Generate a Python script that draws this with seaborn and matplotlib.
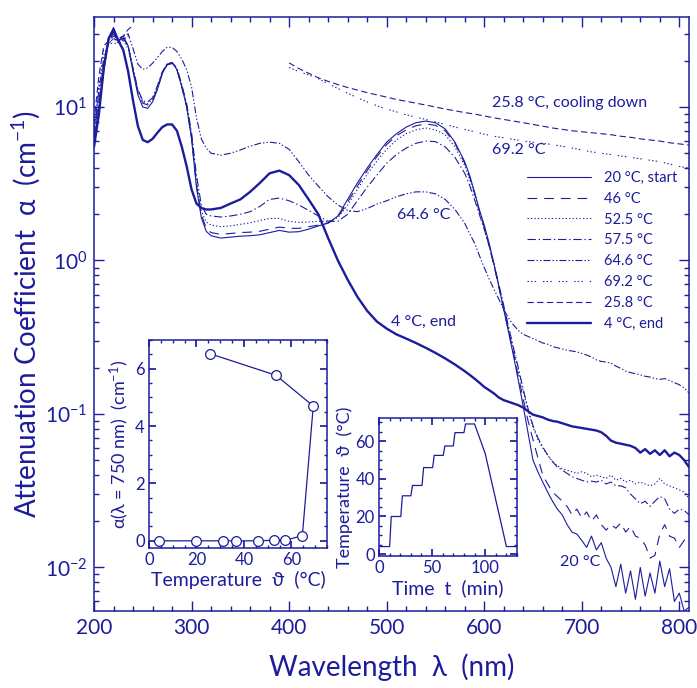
import matplotlib
matplotlib.use("Agg")
import matplotlib.pyplot as plt
from matplotlib.lines import Line2D
from matplotlib.ticker import MultipleLocator, LogLocator, NullFormatter
import seaborn as sns

BLUE = "#1c1c9c"

# ---- spectra (wavelength in nm, attenuation in 1/cm) ----
wl = ([200, 205, 210, 215, 220, 225, 230, 235, 240, 245, 250, 255, 260, 265, 270,
       275, 280, 285, 290, 295, 300, 305, 310, 315, 320]
      + list(range(330, 590, 10))
      + list(range(585, 815, 5)))

a_20 = [5.8, 9.5, 17, 28, 33, 27, 29, 25, 17, 12, 10, 9.8, 10.8, 13, 16.5, 19, 19.5, 17.5, 13.5, 10, 6.2, 3.0, 1.9, 1.55, 1.45,
        1.40, 1.42, 1.44, 1.45, 1.47, 1.52, 1.57, 1.53, 1.54, 1.60, 1.68, 1.75, 1.95, 2.5, 3.2, 4.0, 4.9, 5.9, 6.7, 7.4, 7.9, 8.1, 7.9, 7.2, 5.9, 4.4,
        3.6, 2.8, 2.15, 1.7, 1.3, 0.95, 0.68, 0.48, 0.34, 0.24, 0.165, 0.112, 0.075, 0.050, 0.042, 0.036, 0.031, 0.027, 0.024, 0.022,
        0.019, 0.017, 0.0165, 0.015, 0.0135, 0.016, 0.013, 0.0145, 0.0115, 0.010, 0.0075, 0.0105, 0.0068, 0.0095, 0.0062, 0.0100,
        0.0065, 0.0092, 0.0068, 0.011, 0.0075, 0.0098, 0.0060, 0.0068, 0.0052, 0.0055]

a_46 = [6.5, 11, 19, 27, 30, 27, 28, 25, 17.5, 12.5, 10.6, 10.3, 11, 13.3, 16.5, 18.8, 19.2, 17.5, 13.5, 10, 6.3, 3.1, 2.0, 1.62, 1.52,
        1.48, 1.50, 1.52, 1.53, 1.55, 1.60, 1.65, 1.62, 1.62, 1.66, 1.70, 1.76, 1.92, 2.4, 3.05, 3.85, 4.75, 5.7, 6.5, 7.1, 7.55, 7.75, 7.6, 7.0, 5.8, 4.3,
        3.5, 2.75, 2.1, 1.65, 1.25, 0.93, 0.67, 0.48, 0.35, 0.25, 0.175, 0.125, 0.09, 0.068, 0.052, 0.040, 0.035, 0.031, 0.029, 0.027,
        0.025, 0.022, 0.024, 0.021, 0.023, 0.020, 0.022, 0.019, 0.0175, 0.019, 0.018, 0.0195, 0.017, 0.0185, 0.016, 0.0155,
        0.014, 0.0115, 0.012, 0.0165, 0.019, 0.016, 0.0155, 0.0135, 0.015, 0.0165]

a_525 = [7, 12, 20, 26, 28, 26, 27, 24, 17.5, 12.8, 10.8, 10.5, 11.2, 13.5, 16.8, 19, 19.3, 17.8, 13.8, 10.3, 6.5, 3.3, 2.1, 1.78, 1.70,
         1.66, 1.68, 1.72, 1.76, 1.82, 1.88, 1.88, 1.80, 1.77, 1.78, 1.80, 1.80, 1.90, 2.3, 2.9, 3.65, 4.45, 5.3, 6.1, 6.7, 7.1, 7.3, 7.1, 6.6, 5.5, 4.15,
         3.4, 2.7, 2.1, 1.65, 1.25, 0.93, 0.68, 0.49, 0.36, 0.26, 0.19, 0.14, 0.105, 0.082, 0.068, 0.06, 0.054, 0.049, 0.046, 0.044,
         0.043, 0.042, 0.041, 0.042, 0.041, 0.039, 0.040, 0.039, 0.038, 0.040, 0.037, 0.038, 0.036, 0.037, 0.035, 0.036,
         0.035, 0.034, 0.035, 0.038, 0.035, 0.034, 0.033, 0.032, 0.031, 0.028]

a_575 = [6, 10, 18, 27, 31, 27, 28, 25, 18, 13, 11, 10.8, 11.5, 13.8, 17, 19.2, 19.5, 18, 14, 10.5, 6.8, 3.6, 2.3, 2.0, 1.95,
         1.92, 1.95, 2.0, 2.08, 2.25, 2.5, 2.55, 2.45, 2.3, 2.12, 1.95, 1.8, 1.8, 2.0, 2.45, 3.0, 3.6, 4.3, 4.9, 5.4, 5.8, 6.0, 5.95, 5.5, 4.7, 3.7,
         3.1, 2.5, 2.0, 1.6, 1.25, 0.95, 0.7, 0.51, 0.37, 0.27, 0.2, 0.145, 0.108, 0.084, 0.07, 0.061, 0.054, 0.049, 0.045, 0.043,
         0.041, 0.039, 0.038, 0.037, 0.036, 0.0365, 0.036, 0.037, 0.035, 0.036, 0.034, 0.034, 0.033, 0.030, 0.028, 0.026,
         0.027, 0.025, 0.027, 0.029, 0.028, 0.024, 0.0225, 0.024, 0.0235, 0.022]

a_646 = [7, 13, 21, 26, 28, 27, 29, 30, 24, 19, 17.6, 18, 19.3, 21, 23, 24.5, 24.5, 23, 20.5, 17.5, 13.5, 8.5, 6.2, 5.4, 5.0,
         4.85, 5.0, 5.25, 5.55, 5.8, 5.9, 5.8, 5.3, 4.4, 3.6, 3.05, 2.6, 2.3, 2.12, 2.08, 2.18, 2.33, 2.45, 2.6, 2.72, 2.8, 2.8, 2.72, 2.5, 2.15, 1.75,
         1.5, 1.3, 1.08, 0.9, 0.76, 0.65, 0.56, 0.48, 0.42, 0.38, 0.35, 0.33, 0.32, 0.31, 0.30, 0.29, 0.285, 0.275, 0.27, 0.265,
         0.26, 0.257, 0.254, 0.248, 0.242, 0.235, 0.225, 0.22, 0.218, 0.214, 0.205, 0.198, 0.19, 0.186, 0.183, 0.18,
         0.176, 0.174, 0.17, 0.168, 0.17, 0.165, 0.16, 0.155, 0.148, 0.137]

a_4 = [5.5, 9, 18, 28, 32, 27, 23.5, 17, 11, 7.5, 6.1, 5.9, 6.2, 6.8, 7.4, 7.7, 7.7, 7.0, 5.5, 4.1, 2.9, 2.35, 2.2, 2.15, 2.15,
       2.2, 2.35, 2.5, 2.8, 3.2, 3.7, 3.85, 3.6, 3.1, 2.5, 2.0, 1.4, 1.0, 0.75, 0.58, 0.47, 0.40, 0.36, 0.33, 0.31, 0.29, 0.27, 0.25, 0.23, 0.21, 0.19,
       0.18, 0.17, 0.16, 0.15, 0.143, 0.136, 0.128, 0.123, 0.12, 0.117, 0.114, 0.11, 0.104, 0.099, 0.097, 0.095, 0.092, 0.09, 0.089, 0.087,
       0.085, 0.083, 0.082, 0.081, 0.08, 0.079, 0.078, 0.076, 0.072, 0.067, 0.065, 0.064, 0.063, 0.062, 0.060, 0.056,
       0.059, 0.055, 0.058, 0.054, 0.058, 0.053, 0.056, 0.054, 0.050, 0.045]

# turbid samples: measured only below 240 nm and above 400 nm (saturated between)
wl_uv = [200, 205, 210, 215, 220, 225, 230, 235, 240]
a_692_uv = [6.5, 14, 24, 26, 26, 26, 27.5, 29, 31]
a_258_uv = [8, 16, 25, 27, 29, 28, 29, 32, 34]

wl_vis = list(range(400, 820, 10))
a_258_vis = [19.4, 17.8, 16.6, 15.5, 14.7, 14.0, 13.4, 12.9, 12.4, 12.0, 11.6, 11.2, 10.9, 10.6, 10.3, 10.0, 9.7, 9.45,
             9.2, 9.0, 8.75, 8.5, 8.3, 8.1, 7.9, 7.7, 7.5, 7.3, 7.15, 7.0, 6.9, 6.8, 6.7, 6.6, 6.45, 6.35, 6.2, 6.1,
             6.0, 5.85, 5.75, 5.65]
a_692_vis = [18.1, 17.0, 16.2, 15.3, 14.2, 13.2, 12.3, 11.5, 10.8, 10.2, 9.7, 9.3, 8.9, 8.6, 8.3, 8.0, 7.7, 7.4,
             7.15, 6.9, 6.65, 6.45, 6.3, 6.15, 6.0, 5.9, 5.8, 5.7, 5.55, 5.4, 5.25, 5.1, 5.0, 4.9, 4.8, 4.7, 4.6, 4.5,
             4.4, 4.25, 4.1, 4.0]

# ---- inset data ----
temp_pts = [4, 20, 31, 36.5, 46, 52.5, 57.5, 64.6, 69.2, 53.5, 25.8]
alpha_750 = [0.0, 0.0, 0.0, 0.0, 0.0, 0.02, 0.02, 0.18, 4.7, 5.77, 6.52]

t_min = [0, 10, 11.5, 20.5, 22, 30, 31.5, 40.5, 42, 50.5, 52, 60.5, 62, 70, 71.5, 80, 81.5, 90, 100, 120, 130]
T_hist = [4, 4, 20, 20, 31, 31, 36.5, 36.5, 46, 46, 52.5, 52.5, 57.5, 57.5, 64.6, 64.6, 69.2, 69.2, 53.5, 4, 4]

legend_labels = ["20 °C, start", "46 °C", "52.5 °C", "57.5 °C", "64.6 °C", "69.2 °C", "25.8 °C", "4 °C, end"]

sns.set_theme(style="ticks")
plt.rcParams.update({
    "font.family": ["Lato", "DejaVu Sans"],
    "mathtext.fontset": "custom",
    "mathtext.rm": "Lato",
    "mathtext.default": "regular",
    "text.color": BLUE,
    "axes.labelcolor": BLUE,
    "axes.edgecolor": BLUE,
    "xtick.color": BLUE,
    "ytick.color": BLUE,
    "axes.linewidth": 1.1,
    "lines.scale_dashes": False,
})

styles = {
    "20": (0.8, "-"),
    "46": (0.8, (0, (7, 5))),
    "52.5": (0.8, (0, (0.9, 1.6))),
    "57.5": (0.8, (0, (6, 2, 1, 2))),
    "64.6": (0.8, (0, (5, 1.5, 1, 1.5, 1, 1.5))),
    "69.2": (0.8, (0, (1, 1.6, 1, 1.6, 1, 5))),
    "25.8": (0.8, (0, (4.5, 2.5))),
    "4": (1.7, "-"),
}


def draw(ax, x, y, key):
    lw, ls = styles[key]
    sns.lineplot(x=x, y=y, ax=ax, color=BLUE, lw=lw, linestyle=ls,
                 estimator=None, sort=False, legend=False)


fig = plt.figure(figsize=(6.97, 6.88), dpi=100)
ax = fig.add_axes([0.1349, 0.1119, 0.8537, 0.8634])
ax.set_yscale("log")

draw(ax, wl, a_20, "20")
draw(ax, wl, a_46, "46")
draw(ax, wl, a_525, "52.5")
draw(ax, wl, a_575, "57.5")
draw(ax, wl, a_646, "64.6")
draw(ax, wl_uv, a_692_uv, "69.2")
draw(ax, wl_vis, a_692_vis, "69.2")
draw(ax, wl_uv, a_258_uv, "25.8")
draw(ax, wl_vis, a_258_vis, "25.8")
draw(ax, wl, a_4, "4")

ax.set_xlim(200, 810)
ax.set_ylim(0.0052, 38.6)
ax.xaxis.set_major_locator(MultipleLocator(100))
ax.xaxis.set_minor_locator(MultipleLocator(20))
ax.yaxis.set_major_locator(LogLocator(base=10))
ax.yaxis.set_minor_locator(LogLocator(base=10, subs=range(2, 10)))
ax.yaxis.set_minor_formatter(NullFormatter())
ax.tick_params(which="both", direction="in", top=True, right=True, labelsize=15, width=1.0)
ax.tick_params(which="major", length=7, pad=5)
ax.tick_params(which="minor", length=3.5)
ax.set_xlabel("Wavelength  λ  (nm)", fontsize=20, labelpad=11)
ax.set_ylabel("Attenuation Coefficient  α  (cm$^{-1}$)", fontsize=20, labelpad=2)

handles = [Line2D([], [], color=BLUE, lw=styles[k][0], linestyle=styles[k][1])
           for k in ["20", "46", "52.5", "57.5", "64.6", "69.2", "25.8", "4"]]
ax.legend(handles, legend_labels, loc="upper left", bbox_to_anchor=(0.728, 0.741),
          frameon=False, fontsize=10.5, handlelength=4.4, handletextpad=0.9,
          labelspacing=0.47, borderpad=0, borderaxespad=0)

ax.text(608, 10.6, "25.8 °C, cooling down", fontsize=11.5, va="center", ha="left")
ax.text(608, 5.25, "69.2 °C", fontsize=11.5, va="center", ha="left")
ax.text(511, 1.98, "64.6 °C", fontsize=11.5, va="center", ha="left")
ax.text(504, 0.40, "4 °C, end", fontsize=11.5, va="center", ha="left")
ax.text(678, 0.0109, "20 °C", fontsize=11.5, va="center", ha="left")

# inset: alpha at 750 nm vs temperature
ax1 = fig.add_axes([0.2138, 0.2035, 0.2554, 0.3023])
ax1.set_facecolor("white")
sns.lineplot(x=temp_pts, y=alpha_750, ax=ax1, color=BLUE, lw=0.9, marker="o", markersize=7,
             markerfacecolor="white", markeredgecolor=BLUE, markeredgewidth=0.9,
             estimator=None, sort=False, legend=False)
ax1.set_xlim(0, 75)
ax1.set_ylim(-0.25, 7)
ax1.xaxis.set_major_locator(MultipleLocator(20))
ax1.xaxis.set_minor_locator(MultipleLocator(5))
ax1.yaxis.set_major_locator(MultipleLocator(2))
ax1.yaxis.set_minor_locator(MultipleLocator(0.5))
ax1.tick_params(which="both", direction="in", top=True, right=True, labelsize=12, pad=3)
ax1.tick_params(which="major", length=5)
ax1.tick_params(which="minor", length=2.5)
ax1.set_xlabel("Temperature  ϑ  (°C)", fontsize=14, labelpad=2)
ax1.set_ylabel("α(λ = 750 nm)  (cm$^{-1}$)", fontsize=13, labelpad=3)

# inset: temperature history
ax2 = fig.add_axes([0.5438, 0.1919, 0.1980, 0.2006])
ax2.set_facecolor("white")
sns.lineplot(x=t_min, y=T_hist, ax=ax2, color=BLUE, lw=0.9,
             estimator=None, sort=False, legend=False)
ax2.set_xlim(0, 130)
ax2.set_ylim(-1, 72.4)
ax2.xaxis.set_major_locator(MultipleLocator(50))
ax2.xaxis.set_minor_locator(MultipleLocator(10))
ax2.yaxis.set_major_locator(MultipleLocator(20))
ax2.yaxis.set_minor_locator(MultipleLocator(5))
ax2.tick_params(which="both", direction="in", top=True, right=True, labelsize=12, pad=3)
ax2.tick_params(which="major", length=5)
ax2.tick_params(which="minor", length=2.5)
ax2.set_xlabel("Time  t  (min)", fontsize=14, labelpad=2)
ax2.set_ylabel("Temperature  ϑ  (°C)", fontsize=13, labelpad=2)

fig.savefig("out.png", dpi=100)
